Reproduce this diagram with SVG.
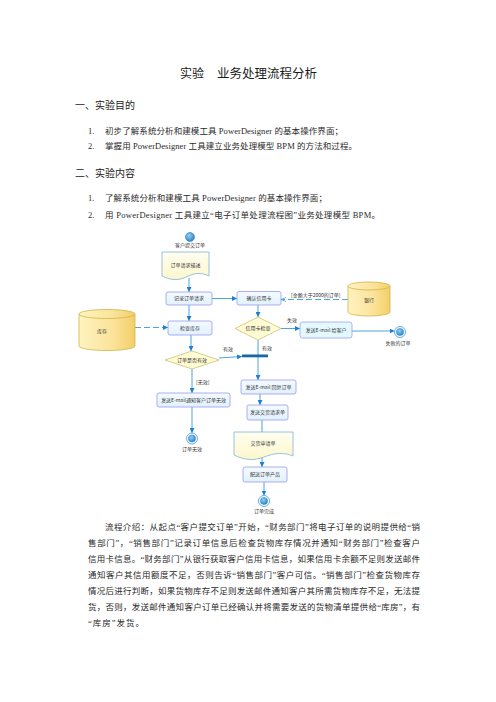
<svg xmlns="http://www.w3.org/2000/svg" width="496" height="702" viewBox="0 0 496 702">
<defs>
<style>
.body{font-family:"Liberation Serif","Noto Sans CJK SC",serif;font-size:8.5px;fill:#2a2a2a}
.head{font-family:"Noto Sans CJK SC",sans-serif;font-size:10px;fill:#222}
.title{font-family:"Noto Sans CJK SC",sans-serif;font-size:12.5px;fill:#1a1a1a}
.lbl{font-family:"Noto Sans CJK SC","DejaVu Sans",sans-serif;font-size:5px;fill:#333}
.box{fill:url(#gBox);stroke:#9a9ae8;stroke-width:0.8}
.box2{fill:#e4f9ff;stroke:#a0a0ee;stroke-width:0.8}
.doc{fill:url(#gDoc);stroke:#7fb2dd;stroke-width:0.8}
.dia{fill:#fffbd2;stroke:#c9c27a;stroke-width:0.8}
.cyl{fill:url(#gCyl);stroke:#d2b44a;stroke-width:0.8}
.cylTop{fill:none;stroke:#d2b44a;stroke-width:0.8}
.ln{fill:none;stroke:#3a9ad8;stroke-width:0.9}
.arr{marker-end:url(#ah)}
.dash{stroke-dasharray:6 3}
</style>
<linearGradient id="gBox" x1="0" y1="0" x2="0" y2="1"><stop offset="0" stop-color="#f4fbff"/><stop offset="1" stop-color="#e2f1ff"/></linearGradient>
<linearGradient id="gDoc" x1="0" y1="0" x2="0" y2="1"><stop offset="0" stop-color="#fffef0"/><stop offset="1" stop-color="#fdf7cc"/></linearGradient>
<linearGradient id="gCyl" x1="0" y1="0" x2="1" y2="0"><stop offset="0" stop-color="#fff3c0"/><stop offset="0.6" stop-color="#fbe39a"/><stop offset="1" stop-color="#f3cf68"/></linearGradient>
<radialGradient id="gNode" cx="0.4" cy="0.35" r="0.7"><stop offset="0" stop-color="#8fd0f5"/><stop offset="1" stop-color="#2a7fc4"/></radialGradient>
<marker id="ah" viewBox="0 0 10 10" refX="10" refY="5" markerWidth="5" markerHeight="5" markerUnits="userSpaceOnUse" orient="auto"><path d="M0,0 L10,5 L0,10 Z" fill="#1a7fcc"/></marker>
<marker id="ao" viewBox="0 0 10 10" refX="10" refY="5" markerWidth="5" markerHeight="5" markerUnits="userSpaceOnUse" orient="auto"><path d="M0,1 L10,5 L0,9" fill="none" stroke="#3a9ad8" stroke-width="1.5"/></marker>
</defs>
<rect width="496" height="702" fill="#ffffff"/>

<g id="page-text">
<text class="title" x="180" y="77.5" textLength="24" lengthAdjust="spacingAndGlyphs">实验</text>
<text class="title" x="217" y="77.5" textLength="100" lengthAdjust="spacing">业务处理流程分析</text>
<text class="head" x="75" y="108.5" textLength="60" lengthAdjust="spacing">一、实验目的</text>
<text class="body" x="88" y="134">1.</text>
<text class="body" x="105" y="134" textLength="238" lengthAdjust="spacing">初步了解系统分析和建模工具 PowerDesigner 的基本操作界面；</text>
<text class="body" x="88" y="149">2.</text>
<text class="body" x="105" y="149" textLength="252" lengthAdjust="spacing">掌握用 PowerDesigner 工具建立业务处理模型 BPM 的方法和过程。</text>
<text class="head" x="75" y="176.5" textLength="60" lengthAdjust="spacing">二、实验内容</text>
<text class="body" x="88" y="201">1.</text>
<text class="body" x="105" y="201" textLength="222" lengthAdjust="spacing">了解系统分析和建模工具 PowerDesigner 的基本操作界面；</text>
<text class="body" x="88" y="218">2.</text>
<text class="body" x="105" y="218" textLength="275" lengthAdjust="spacing">用 PowerDesigner 工具建立“电子订单处理流程图”业务处理模型 BPM。</text>

<text class="body" x="105" y="530" textLength="315" lengthAdjust="spacing">流程介绍：从起点“客户提交订单”开始，“财务部门”将电子订单的说明提供给“销</text>
<text class="body" x="88" y="546" textLength="332" lengthAdjust="spacing">售部门”，“销售部门”记录订单信息后检查货物库存情况并通知“财务部门”检查客户</text>
<text class="body" x="88" y="562" textLength="332" lengthAdjust="spacing">信用卡信息。“财务部门”从银行获取客户信用卡信息，如果信用卡余额不足则发送邮件</text>
<text class="body" x="88" y="578" textLength="332" lengthAdjust="spacing">通知客户其信用额度不足，否则告诉“销售部门”客户可信。“销售部门”检查货物库存</text>
<text class="body" x="88" y="594" textLength="332" lengthAdjust="spacing">情况后进行判断，如果货物库存不足则发送邮件通知客户其所需货物库存不足，无法提</text>
<text class="body" x="88" y="610" textLength="332" lengthAdjust="spacing">货，否则，发送邮件通知客户订单已经确认并将需要发送的货物清单提供给“库房”，有</text>
<text class="body" x="88" y="626" textLength="56" lengthAdjust="spacing">“库房”发货。</text>
</g>

<g id="connectors">
<line class="ln arr" x1="189" y1="278" x2="189" y2="292"/>
<line class="ln arr" x1="212" y1="298.5" x2="237" y2="298.5"/>
<line class="ln arr" x1="189" y1="305" x2="189" y2="321"/>
<line class="ln arr dash" x1="135" y1="327.5" x2="168" y2="327.5"/>
<line class="ln dash" x1="348" y1="299.5" x2="281" y2="299.5" marker-end="url(#ao)"/>
<text class="lbl" x="291" y="296.5">[金额大于2000的订单]</text>
<line class="ln arr" x1="258" y1="305" x2="258" y2="317"/>
<line class="ln arr" x1="281" y1="328.5" x2="300" y2="328.5"/>
<text class="lbl" x="287" y="322">失效</text>
<line class="ln arr" x1="352" y1="331" x2="394.5" y2="331"/>
<line class="ln arr" x1="258" y1="340" x2="258" y2="380"/>
<text class="lbl" x="262" y="350">有效</text>
<line class="ln arr" x1="191" y1="335" x2="191" y2="351"/>
<line class="ln arr" x1="219" y1="358" x2="242" y2="356.5"/>
<text class="lbl" x="223" y="351">有效</text>
<line class="ln arr" x1="192" y1="369" x2="192" y2="393"/>
<text class="lbl" x="196" y="384">[无效]</text>
<line class="ln arr" x1="192" y1="407" x2="192" y2="433"/>
<line class="ln arr" x1="260" y1="394" x2="260" y2="405"/>
<line class="ln" x1="262" y1="420" x2="262" y2="432"/>
<line class="ln arr" x1="262" y1="457" x2="262" y2="467"/>
<line class="ln arr" x1="264" y1="482" x2="264" y2="495.5"/>
</g>

<g id="start">
<circle cx="190" cy="237" r="4.5" fill="url(#gNode)" stroke="#2a7fc4" stroke-width="0.6"/>
<text class="lbl" x="190" y="246.5" text-anchor="middle">客户提交订单</text>
</g>

<g id="doc-order">
<path class="doc" d="M162,252 H209 V276 C201,272 194,273 186,277 C178,281 170,280 162,276 Z"/>
<text class="lbl" x="185.5" y="267" text-anchor="middle">订单请求描述</text>
</g>

<g id="record-order">
<rect class="box" x="166" y="292" width="46" height="13" rx="2"/>
<text class="lbl" x="189" y="300.3" text-anchor="middle">记录订单请求</text>
</g>

<g id="confirm-card">
<rect class="box" x="237" y="291.5" width="44" height="13.5" rx="2"/>
<text class="lbl" x="259" y="300" text-anchor="middle">确认信用卡</text>
</g>

<g id="bank">
<path class="cyl" d="M348,286 A21,4 0 0 1 390,286 V312 A21,4 0 0 1 348,312 Z"/>
<path class="cylTop" d="M348,286 A21,4 0 0 0 390,286"/>
<text class="lbl" x="369" y="302" text-anchor="middle">银行</text>
</g>

<g id="stock">
<path class="cyl" d="M79,314 A28,4.5 0 0 1 135,314 V346 A28,4.5 0 0 1 79,346 Z"/>
<path class="cylTop" d="M79,314 A28,4.5 0 0 0 135,314"/>
<text class="lbl" x="102" y="333" text-anchor="middle">库存</text>
</g>

<g id="check-stock">
<rect class="box" x="168" y="321" width="44" height="14" rx="2"/>
<text class="lbl" x="190" y="329.8" text-anchor="middle">检查库存</text>
</g>

<g id="card-check">
<polygon class="dia" points="258,317 281,328.5 258,340 235,328.5"/>
<text class="lbl" x="258" y="330.3" text-anchor="middle">信用卡检查</text>
</g>

<g id="email-customer">
<rect class="box2" x="300" y="322" width="52" height="16" rx="2.5"/>
<text class="lbl" x="326" y="331.8" text-anchor="middle">发送E-mail 给客户</text>
</g>

<g id="end-fail">
<circle cx="400" cy="332" r="5.5" fill="#ffffff" stroke="#5fb0e8" stroke-width="1"/>
<circle cx="400" cy="332" r="3.6" fill="url(#gNode)" stroke="#2a7fc4" stroke-width="0.5"/>
<text class="lbl" x="398" y="345" text-anchor="middle">失败的订单</text>
</g>

<g id="order-valid">
<polygon class="dia" points="192,351 219,360 192,369 165,360"/>
<text class="lbl" x="192" y="361.8" text-anchor="middle">订单是否有效</text>
</g>

<g id="sync-bar">
<rect x="242" y="354.5" width="26" height="2.8" fill="#1766a8"/>
</g>

<g id="email-invalid">
<rect class="box" x="157" y="393" width="73" height="14" rx="2"/>
<text class="lbl" x="193.5" y="401.8" text-anchor="middle">发送E-mail通知客户订单无效</text>
</g>

<g id="end-invalid">
<circle cx="192" cy="438.5" r="5.5" fill="#ffffff" stroke="#5fb0e8" stroke-width="1"/>
<circle cx="192" cy="438.5" r="3.6" fill="url(#gNode)" stroke="#2a7fc4" stroke-width="0.5"/>
<text class="lbl" x="192" y="451" text-anchor="middle">订单无效</text>
</g>

<g id="email-reply">
<rect class="box" x="241" y="380" width="55" height="14" rx="2"/>
<text class="lbl" x="268.5" y="388.8" text-anchor="middle">发送E-mail 回复订单</text>
</g>

<g id="send-delivery">
<rect class="box" x="247" y="405" width="41" height="15" rx="2"/>
<text class="lbl" x="267.5" y="414.3" text-anchor="middle">发送交货请求单</text>
</g>

<g id="doc-delivery">
<path class="doc" d="M234,432 H293 V456 C284,452 274,453 264,457 C254,461 244,460 234,455 Z"/>
<text class="lbl" x="263" y="445" text-anchor="middle">交货申请单</text>
</g>

<g id="ship-products">
<rect class="box" x="243" y="467" width="44" height="15" rx="2"/>
<text class="lbl" x="265" y="476.3" text-anchor="middle">配送订单产品</text>
</g>

<g id="end-done">
<circle cx="264" cy="501" r="5.5" fill="#ffffff" stroke="#5fb0e8" stroke-width="1"/>
<circle cx="264" cy="501" r="3.6" fill="url(#gNode)" stroke="#2a7fc4" stroke-width="0.5"/>
<text class="lbl" x="264" y="513" text-anchor="middle">订单完成</text>
</g>
</svg>
